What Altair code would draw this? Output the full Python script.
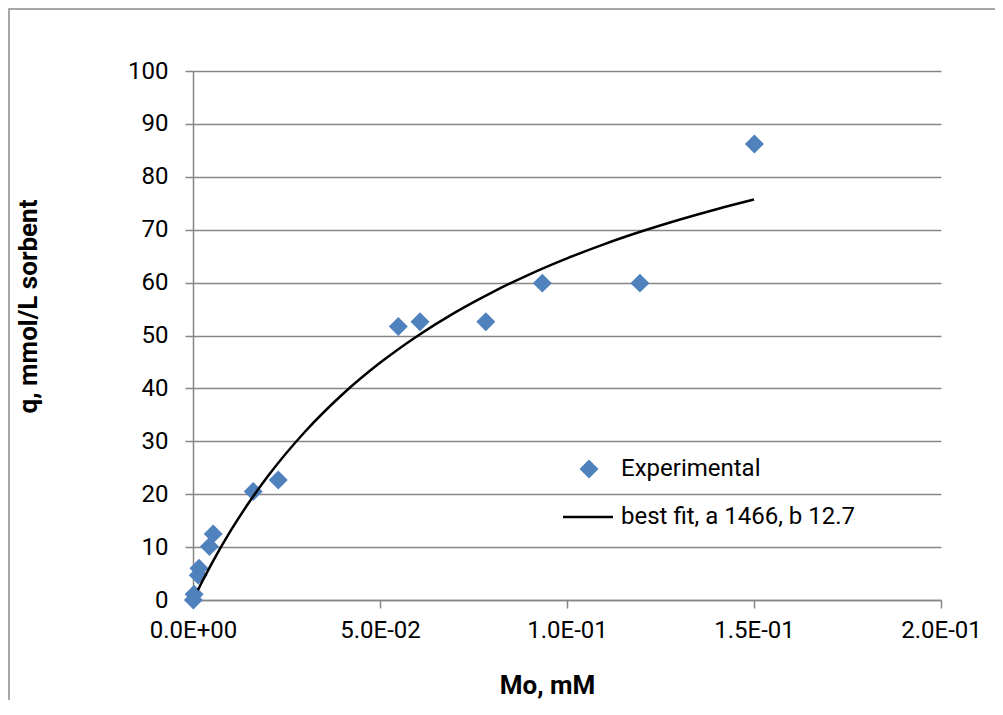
import json
import altair as alt
import pandas as pd

mo_exp = [0.0001, 0.0003, 0.0014, 0.0016, 0.0044, 0.0054, 0.0161, 0.0228,
          0.0549, 0.0607, 0.0783, 0.0934, 0.1195, 0.1501]
q_exp = [0.0, 1.1, 4.7, 6.0, 10.1, 12.5, 20.5, 22.7,
         51.7, 52.6, 52.6, 59.9, 59.9, 86.2]

# Best-fit curve
fit_mo = [0.0013, 0.0025, 0.005, 0.01, 0.015, 0.02, 0.03, 0.04, 0.05, 0.06,
          0.07, 0.08, 0.09, 0.10, 0.11, 0.12, 0.13, 0.14, 0.15]
fit_q = [1.87, 3.55, 6.89, 13.01, 18.47, 23.38, 31.85, 38.89, 44.83, 49.92,
         54.33, 58.17, 61.57, 64.58, 67.28, 69.70, 71.89, 73.88, 75.70]

x_ticks = [0.0, 0.05, 0.10, 0.15, 0.20]
x_tick_labels = ["0.0E+00", "5.0E-02", "1.0E-01", "1.5E-01", "2.0E-01"]
y_ticks = [0, 10, 20, 30, 40, 50, 60, 70, 80, 90, 100]

legend_labels = ["Experimental", "best fit, a 1466, b 12.7"]

FONT = "Roboto"
GRAY = "#868686"
BLUE = "#4F81BD"

exp_df = pd.DataFrame({"mo": mo_exp, "q": q_exp})
fit_df = pd.DataFrame({"mo": fit_mo, "q": fit_q})

x_enc = alt.X(
    "mo:Q",
    scale=alt.Scale(domain=[0, 0.2], nice=False),
    axis=alt.Axis(
        values=x_ticks,
        labelExpr=f"{json.dumps(x_tick_labels)}[indexof({json.dumps(x_ticks)}, datum.value)]",
        title="Mo, mM",
        grid=False,
        domainColor=GRAY, domainWidth=1.5,
        tickColor=GRAY, tickWidth=1.5, tickSize=8,
        labelFont=FONT, labelFontSize=24, labelColor="#000000", labelPadding=10,
        titleFont=FONT, titleFontSize=26, titleFontWeight="bold", titleColor="#000000",
        titleX=354, titleY=93, titleAlign="center", titleBaseline="alphabetic",
        labelFlush=False,
    ),
)
y_enc = alt.Y(
    "q:Q",
    scale=alt.Scale(domain=[0, 100], nice=False),
    axis=alt.Axis(
        values=y_ticks,
        title="q, mmol/L sorbent",
        grid=True, gridColor=GRAY, gridWidth=1.5,
        domainColor=GRAY, domainWidth=1.5,
        tickColor=GRAY, tickWidth=1.5, tickSize=8,
        labelFont=FONT, labelFontSize=24, labelColor="#000000", labelPadding=17,
        titleFont=FONT, titleFontSize=26, titleFontWeight="bold", titleColor="#000000",
        titleX=-165, titleY=235, titleAlign="center", titleBaseline="middle",
        labelFlush=False,
    ),
)

points = alt.Chart(exp_df).mark_point(
    shape="diamond", filled=True, size=360, color=BLUE, opacity=1
).encode(x=x_enc, y=y_enc)

curve = alt.Chart(fit_df).mark_line(
    color="#000000", strokeWidth=2.5, interpolate="monotone"
).encode(x="mo:Q", y="q:Q")

one = alt.Data(values=[{}])

border = alt.Chart(one).mark_rect(
    fillOpacity=0, stroke="#8a8a8a", strokeWidth=1.5
).encode(x=alt.value(-184), x2=alt.value(830), y=alt.value(-62), y2=alt.value(720))

leg_sym = alt.Chart(one).mark_point(
    shape="diamond", filled=True, size=360, color=BLUE, opacity=1
).encode(x=alt.value(396), y=alt.value(398))

leg_line = alt.Chart(one).mark_rule(color="#000000", strokeWidth=2.5).encode(
    x=alt.value(370), x2=alt.value(420), y=alt.value(446)
)

leg_text1 = alt.Chart(one).mark_text(
    text=legend_labels[0], font=FONT, fontSize=24, align="left", baseline="middle", color="#000000"
).encode(x=alt.value(428), y=alt.value(398))

leg_text2 = alt.Chart(one).mark_text(
    text=legend_labels[1], font=FONT, fontSize=24, align="left", baseline="middle", color="#000000"
).encode(x=alt.value(428), y=alt.value(446))

chart = alt.layer(
    border, points, curve, leg_sym, leg_line, leg_text1, leg_text2
).properties(
    width=748, height=529,
    autosize=alt.AutoSizeParams(type="none"),
    padding={"left": 185, "top": 63, "right": 54, "bottom": 100},
    background="#ffffff",
).configure_view(stroke=None)

chart.save("out.html", embed_options={"renderer": "svg", "actions": False})
